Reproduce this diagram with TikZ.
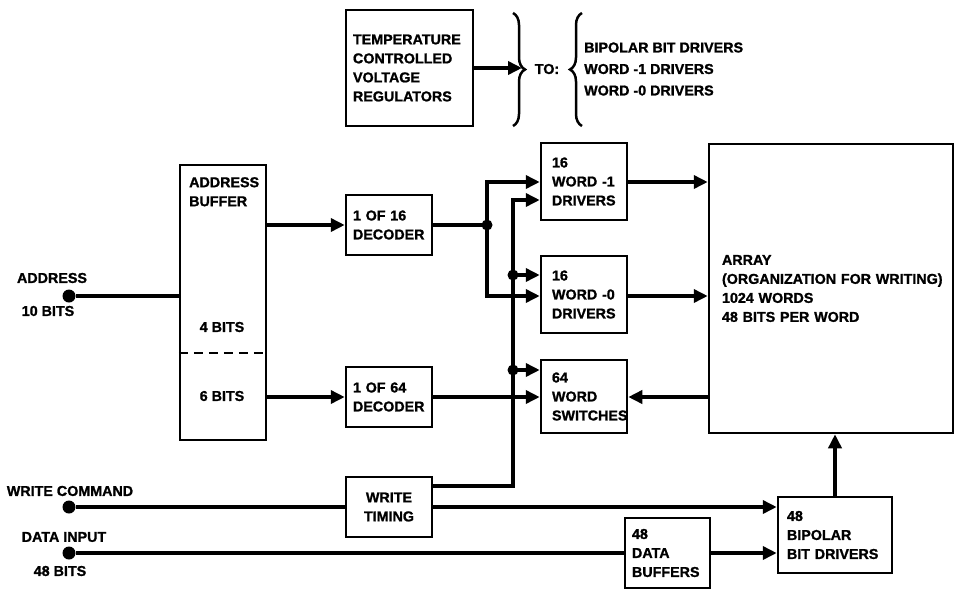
\documentclass[tikz,border=0pt]{standalone}
\usepackage{fontspec}
\setmainfont{Liberation Sans}[BoldFeatures={FakeBold=1.2}]
\usetikzlibrary{arrows.meta,decorations.pathreplacing,calc}
\begin{document}
\begin{tikzpicture}[x=1pt,y=-1pt,
  every node/.style={font=\fontsize{14.3}{19}\selectfont\bfseries, inner sep=0pt},
  blk/.style={draw, line width=2.5pt, inner xsep=7pt, inner ysep=0pt, align=left},
  wblk/.style={blk, inner xsep=11pt, text width=64pt},
  wire/.style={line width=3.5pt},
  arr/.style={wire, -{Triangle[length=14pt,width=13pt]}},
  idot/.style={circle, fill, inner sep=0pt, minimum size=13pt},
  jdot/.style={circle, fill, inner sep=0pt, minimum size=11pt},
  brc/.style={line width=2.5pt, decorate, decoration={brace, amplitude=12pt}}
]
\useasboundingbox[fill=white] (0,0) rectangle (960,589);

% ---- top: regulators ----
\node[blk, text width=113pt, minimum height=116pt] (tc) at (409.5,68) {TEMPERATURE\\CONTROLLED\\VOLTAGE\\REGULATORS};
\coordinate (bt) at (522,68);
\draw[arr] (tc.east) -- (bt);
\draw[brc] (513,13) -- (513,126);
\node (to) at (547,69) {TO:};
\draw[brc] (582,126) -- (582,13);
\node[anchor=west, align=left, font=\fontsize{14.3}{21.5}\selectfont\bfseries] (tolist) at (584,69) {BIPOLAR BIT DRIVERS\\WORD -1 DRIVERS\\WORD -0 DRIVERS};

% ---- address buffer ----
\node[draw, line width=2.5pt, minimum width=86pt, minimum height=275pt] (ab) at (223,302.5) {};
\node[anchor=north west, align=left] (abt) at (189,177) {ADDRESS\\BUFFER};
\node (b4) at (222,327) {4 BITS};
\node (b6) at (222,396) {6 BITS};
\coordinate (dsh) at (223,353);
\draw[line width=2.5pt, dash pattern=on 9pt off 6pt] (ab.west |- dsh) -- (ab.east |- dsh);

% ---- inputs ----
\node[idot] (ain) at (69,296) {};
\node (ainl) at (52,278) {ADDRESS};
\node (ainb) at (48,311) {10 BITS};
\node[idot] (wcin) at (69,507) {};
\node (wcl) at (70,491) {WRITE COMMAND};
\node[idot] (din) at (69,553) {};
\node (dinl) at (64,537) {DATA INPUT};
\node (dinb) at (60,571) {48 BITS};

% ---- decoders / timing ----
\node[blk, text width=72pt, minimum height=60pt] (d16) at (389,225) {1 OF 16\\DECODER};
\node[blk, text width=72pt, minimum height=60pt] (d64) at (389,397) {1 OF 64\\DECODER};
\node[blk, text width=72pt, minimum height=60pt, align=center] (wt) at (389,507) {WRITE\\TIMING};

% ---- drivers ----
\node[wblk, minimum height=77pt] (w1) at (584,181.5) {16\\WORD -1\\DRIVERS};
\node[wblk, minimum height=77pt] (w0) at (584,294.5) {16\\WORD -0\\DRIVERS};
\node[wblk, minimum height=73pt] (sw) at (584,396.5) {64\\WORD\\SWITCHES};

% ---- array ----
\node[blk, inner xsep=13pt, text width=218pt, minimum height=289pt] (array) at (831,288.5) {ARRAY\\\mbox{(ORGANIZATION FOR WRITING)}\\1024 WORDS\\48 BITS PER WORD};

% ---- bit drivers / buffers ----
\node[blk, inner xsep=9pt, text width=96pt, minimum height=76pt] (bp) at (835,535) {48\\BIPOLAR\\BIT DRIVERS};
\node[blk, text width=71pt, minimum height=70pt] (db) at (667.5,553) {48\\DATA\\BUFFERS};

% ---- named points ----
\path (w1.west) ++(0,0.5) coordinate (w1a) ++(0,18) coordinate (w1b);
\path (w0.west) ++(0,-19.5) coordinate (w0a) ++(0,21) coordinate (w0b);
\path (sw.west) ++(0,-26.5) coordinate (swa) ++(0,27) coordinate (swb);
\coordinate (j1) at (487,225);
\path (wt.east) ++(0,-21) coordinate (wtA);
\coordinate (wv) at (513,486);
\coordinate (j2) at (wv |- w0a);
\coordinate (j3) at (wv |- swa);

% ---- connectors ----
\draw[wire] (ain) -- (ain -| ab.west);
\draw[arr] (ab.east |- d16.west) -- (d16.west);
\draw[arr] (ab.east |- d64.west) -- (d64.west);
\draw[wire] (d16.east) -- (j1);
\draw[arr] (j1) |- (w1a);
\draw[arr] (j1) |- (w0b);
\node[jdot] (j1d) at (j1) {};
\draw[arr] (d64.east) -- (swb);
\draw[arr] (wtA) -- (wv) |- (w1b);
\draw[arr] (j2) -- (w0a);
\draw[arr] (j3) -- (swa);
\node[jdot] (j2d) at (j2) {};
\node[jdot] (j3d) at (j3) {};
\draw[arr] (w1.east |- w1a) -- (array.west |- w1a);
\draw[arr] (w0.east |- w0b) -- (array.west |- w0b);
\draw[arr] (array.west |- swb) -- (sw.east |- swb);
\draw[wire] (wcin) -- (wt.west);
\draw[arr] (wt.east) -- (wt.east -| bp.west);
\draw[wire] (din) -- (db.west);
\draw[arr] (db.east) -- (db.east -| bp.west);
\draw[arr] (bp.north) -- (array.south -| bp.north);
\end{tikzpicture}
\end{document}
